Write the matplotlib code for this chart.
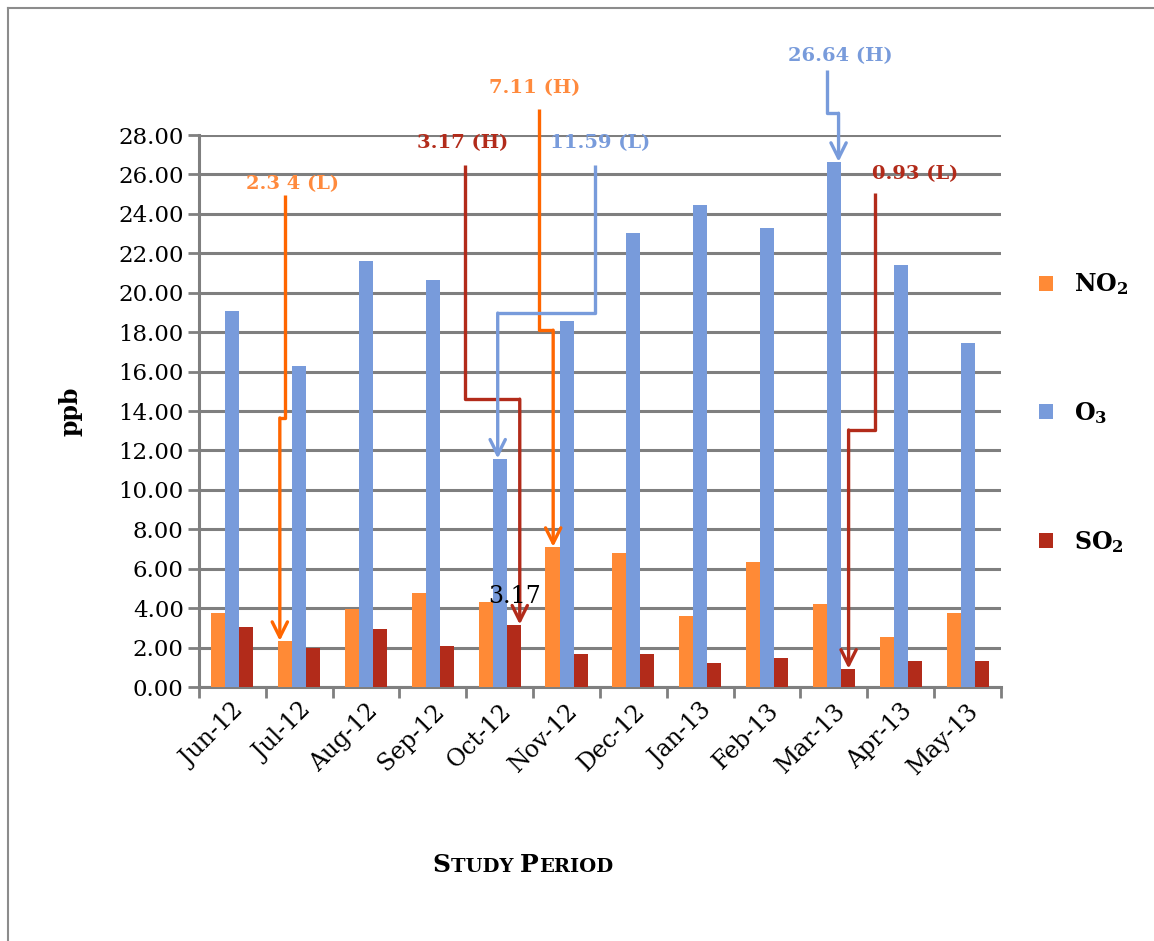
import matplotlib
matplotlib.use("Agg")
import matplotlib.pyplot as plt
import numpy as np
from matplotlib.lines import Line2D
from matplotlib.offsetbox import TextArea, HPacker, AnnotationBbox

months = ["Jun-12", "Jul-12", "Aug-12", "Sep-12", "Oct-12", "Nov-12",
          "Dec-12", "Jan-13", "Feb-13", "Mar-13", "Apr-13", "May-13"]
no2 = [3.78, 2.34, 3.96, 4.77, 4.33, 7.11, 6.81, 3.58, 6.35, 4.19, 2.54, 3.77]
o3 = [19.05, 16.30, 21.60, 20.65, 11.59, 18.55, 23.05, 24.45, 23.30, 26.64, 21.40, 17.45]
so2 = [3.07, 1.98, 2.95, 2.10, 3.17, 1.70, 1.65, 1.23, 1.45, 0.93, 1.31, 1.31]

# annotation paths (x in category units, y in ppb): start, elbow, elbow, tip
notes = [
    ("2.3 4 (L)", "#ff8a3d", "#ff6600", [(0.79, 24.96), (0.79, 13.65), (0.71, 13.65), (0.71, 2.34)], (0.9, 25.5)),
    ("3.17 (H)", "#b22b1a", "#b22b1a", [(3.48, 26.5), (3.48, 14.6), (4.30, 14.6), (4.30, 3.17)], (3.45, 27.6)),
    ("7.11 (H)", "#ff8a3d", "#ff6600", [(4.59, 29.3), (4.59, 18.1), (4.80, 18.1), (4.80, 7.11)], (4.53, 30.4)),
    ("11.59 (L)", "#789bdb", "#789bdb", [(5.43, 26.5), (5.43, 18.97), (3.97, 18.97), (3.97, 11.59)], (5.5, 27.6)),
    ("26.64 (H)", "#789bdb", "#789bdb", [(8.89, 31.3), (8.89, 29.1), (9.07, 29.1), (9.07, 26.64)], (9.1, 32.0)),
    ("0.93 (L)", "#b22b1a", "#b22b1a", [(9.62, 25.06), (9.62, 13.04), (9.22, 13.04), (9.22, 0.93)], (10.22, 26.0)),
]

plt.rcParams["font.family"] = "DejaVu Serif"
plt.rcParams["mathtext.fontset"] = "dejavuserif"

fig = plt.figure(figsize=(11.54, 9.41), dpi=100)
ax = fig.add_axes([0.1724, 0.2699, 0.695, 0.5866])

c_no2, c_o3, c_so2 = "#ff8a36", "#789bdb", "#b22b1a"
x = np.arange(len(months))
w = 0.21
ax.bar(x - w, no2, w, color=c_no2, label=r"$\mathbf{NO_2}$", zorder=3)
ax.bar(x, o3, w, color=c_o3, label=r"$\mathbf{O_3}$", zorder=3)
ax.bar(x + w, so2, w, color=c_so2, label=r"$\mathbf{SO_2}$", zorder=3)

ax.set_xlim(-0.5, len(months) - 0.5)
ax.set_ylim(0, 28)
ax.set_yticks(np.arange(0, 28.1, 2))
ax.set_yticklabels([f"{v:.2f}" for v in np.arange(0, 28.1, 2)], fontsize=16.5)
ax.yaxis.grid(True, color="#7f7f7f", lw=2.2, zorder=0)
ax.tick_params(axis="y", length=8, width=2, color="#7f7f7f", pad=3)

ax.set_xticks(x)
ax.set_xticklabels(months, rotation=45, ha="right", rotation_mode="anchor", fontsize=17)
ax.tick_params(axis="x", length=0, pad=9)
ax.set_xticks(np.arange(-0.5, len(months)), minor=True)
ax.tick_params(axis="x", which="minor", length=8, width=2, color="#7f7f7f")

for s in ["top", "right"]:
    ax.spines[s].set_visible(False)
for s in ["left", "bottom"]:
    ax.spines[s].set_color("#7f7f7f")
    ax.spines[s].set_linewidth(2.2)

ax.set_ylabel("ppb", fontsize=17, fontweight="bold", labelpad=26)

# arrows with elbows
for label, tcol, lcol, path, tpos in notes:
    xs = [p[0] for p in path[:-1]]
    ys = [p[1] for p in path[:-1]]
    ax.plot(xs, ys, color=lcol, lw=2.4, clip_on=False, zorder=5, solid_capstyle="butt")
    ax.annotate("", xy=path[-1], xytext=path[-2],
                arrowprops=dict(arrowstyle="->,head_length=1.1,head_width=0.55",
                                color=lcol, lw=2.4, shrinkA=0, shrinkB=0),
                annotation_clip=False, zorder=5)
    ax.text(tpos[0], tpos[1], label, color=tcol, fontsize=14, fontweight="bold",
            ha="center", va="center", zorder=6, clip_on=False)

ax.text(4.23, 4.57, "3.17", fontsize=17, ha="center", va="center", zorder=6)

fig.legend(loc="upper left", bbox_to_anchor=(0.882, 0.734), frameon=False,
           fontsize=17, handlelength=0.6, handleheight=0.6, labelspacing=4.35,
           handletextpad=0.9)

# small caps axis title
parts = [("S", 18), ("TUDY\u00a0", 14), ("P", 18), ("ERIOD", 14)]
boxes = [TextArea(t, textprops=dict(fontsize=s, fontweight="bold", family="DejaVu Serif")) for t, s in parts]
pack = HPacker(children=boxes, align="baseline", pad=0, sep=0)
ab = AnnotationBbox(pack, (523 / 1154, 1 - 865 / 941), xycoords="figure fraction", frameon=False)
fig.add_artist(ab)

# outer frame
fig.add_artist(Line2D([8 / 1154, 8 / 1154], [0, 1 - 8 / 941], color="#8c8c8c", lw=1.5))
fig.add_artist(Line2D([8 / 1154, 1], [1 - 8 / 941, 1 - 8 / 941], color="#8c8c8c", lw=1.5))

fig.savefig("out.png", dpi=100)
